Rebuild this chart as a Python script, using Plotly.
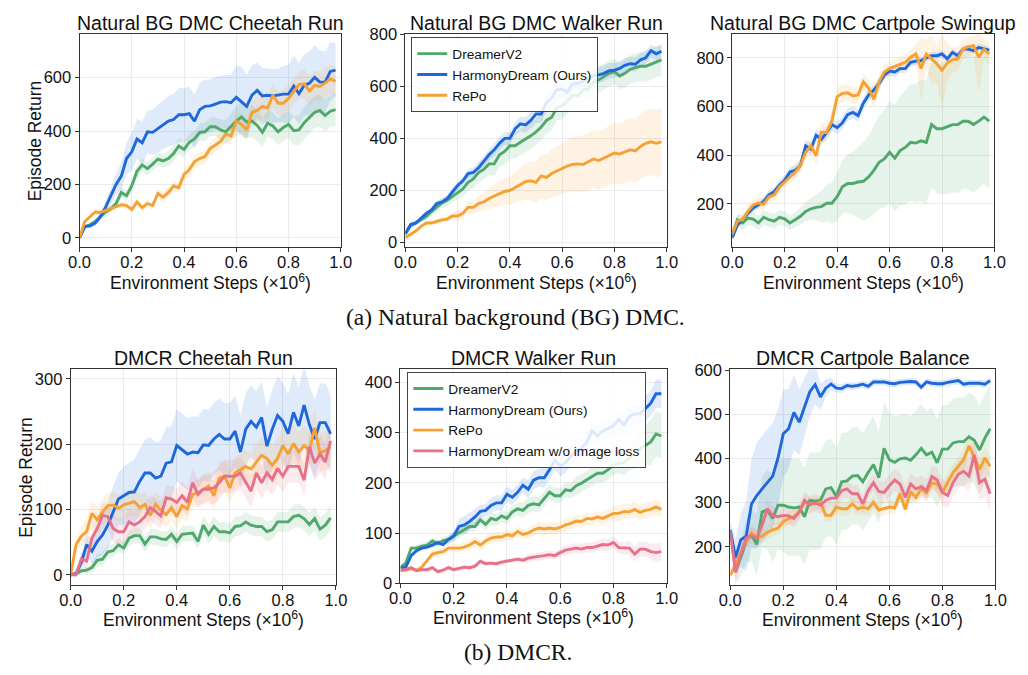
import numpy as np
import plotly.graph_objects as go

W, H = 1028, 675
STEPS = np.round(np.arange(50) * 0.02, 2)

NAMES = ["DreamerV2", "HarmonyDream (Ours)", "RePo", "HarmonyDream w/o image loss"]
COLORS = ["#4fa86c", "#1f68dc", "#f5a133", "#e8718a"]

# ---------------- Natural BG DMC Cheetah Run ----------------
nc_green = [0,42,49,61,79,97,109,128,170,158,194,249,273,259,276,295,288,297,316,344,331,358,370,395,397,416,416,404,397,419,437,453,434,437,421,395,429,419,397,413,425,401,404,431,449,470,477,458,474,480]
nc_blue = [0,42,45,55,79,115,158,200,231,297,322,370,356,397,395,409,423,437,443,461,461,465,437,480,492,494,501,508,510,506,526,510,492,534,552,531,534,531,534,538,538,568,540,571,579,601,583,583,623,628]
nc_orange = [0,61,79,97,95,103,109,119,124,121,106,134,113,128,121,166,152,170,194,188,237,255,285,297,304,334,349,361,389,382,437,425,404,470,477,492,486,534,504,504,522,546,574,577,550,571,567,579,595,586]
nc_green_sd = [0,5,8,10,12,15,15,18,20,20,22,25,25,25,25,25,25,28,30,30,30,30,30,32,35,35,35,40,45,50,55,60,60,60,60,55,50,50,50,50,50,55,55,60,60,60,60,60,60,60]
nc_blue_sd = [0,5,8,10,15,20,30,40,50,60,70,75,80,80,85,90,90,95,95,100,100,100,100,100,100,100,100,100,100,105,120,130,120,110,105,105,100,100,100,105,110,115,115,115,120,120,120,115,110,100]
nc_orange_sd = [0,8,10,10,10,10,10,10,10,12,12,15,15,15,15,18,20,20,20,20,22,25,25,25,25,25,28,30,30,30,35,40,40,40,45,45,45,45,45,50,50,50,50,55,55,55,55,55,55,55]

# ---------------- Natural BG DMC Walker Run ----------------
nw_green = [34,65,75,87,100,119,137,152,162,177,194,206,231,244,269,281,302,302,337,350,372,372,385,397,410,425,444,469,481,519,525,544,565,565,587,590,615,625,637,650,656,640,650,665,672,677,677,685,694,702]
nw_blue = [34,69,75,94,112,125,150,156,169,194,219,237,265,269,287,312,337,356,381,400,400,437,456,452,469,494,494,537,556,587,590,577,610,612,619,631,640,644,650,660,662,669,681,687,685,702,710,737,725,735]
nw_orange = [19,31,44,62,75,75,81,87,90,102,102,112,135,135,150,156,169,177,187,196,200,212,225,234,237,231,256,250,265,275,284,294,300,302,300,312,321,315,325,335,344,340,347,356,352,369,381,387,381,387]
nw_green_sd = [10,10,10,10,12,15,18,20,22,25,28,30,32,35,38,40,42,45,45,50,50,50,50,50,50,50,50,50,50,50,50,50,50,50,50,50,50,50,50,50,50,50,55,55,55,55,60,60,60,60]
nw_blue_sd = [10,10,10,10,10,10,12,12,12,15,15,15,18,18,20,20,22,25,25,25,25,25,28,30,30,35,35,35,35,35,30,30,28,28,28,30,30,30,30,30,28,28,28,28,28,25,25,25,25,25]
nw_orange_sd = [5,5,5,5,8,8,10,10,12,12,20,22,24,26,30,35,40,44,48,52,55,60,65,70,75,80,84,88,92,96,100,102,104,106,108,110,111,112,113,114,115,117,119,121,123,125,126,128,130,130]

# ---------------- Natural BG DMC Cartpole Swingup ----------------
ns_green = [75,135,122,142,138,122,145,135,129,145,139,122,135,149,169,180,186,189,203,203,230,270,284,284,290,293,311,338,371,385,412,388,419,432,453,450,459,453,526,509,509,517,526,526,540,540,526,540,557,540]
ns_blue = [61,115,135,162,183,196,210,237,250,277,297,331,338,358,439,425,482,466,493,526,513,533,567,576,563,614,648,668,695,729,746,742,756,756,782,787,789,800,809,809,816,796,823,809,836,836,830,843,836,832]
ns_orange = [75,129,135,169,196,203,199,230,237,270,290,311,331,358,412,439,398,495,493,540,641,654,657,644,648,702,675,630,702,742,756,765,773,782,803,816,756,816,796,776,749,779,792,796,836,846,850,803,836,816]
ns_green_sd = [20,25,30,30,30,30,30,30,30,30,30,30,30,35,40,45,55,65,75,85,100,110,120,130,145,160,170,180,190,200,210,218,226,234,240,245,250,255,260,265,270,275,280,280,280,280,280,275,275,280]
ns_blue_sd = [15,15,15,15,15,15,18,18,18,20,20,20,22,22,25,25,25,25,25,25,25,25,25,25,25,25,25,22,22,20,20,20,18,18,18,18,15,15,15,15,15,15,15,15,15,15,15,15,15,15]
ns_orange_sd = [20,25,25,25,25,25,25,25,25,25,28,28,30,30,35,35,40,40,40,40,35,35,35,35,35,35,35,35,35,30,30,30,30,30,30,40,130,60,100,80,150,80,50,50,40,40,40,150,40,50]

# ---------------- DMCR Cheetah Run ----------------
dc_green = [0,1.5,6,7,11,22,24,35,37,46,41,56,60,60,47,58,58,55,54,62,51,62,63,64,51,76,62,74,66,66,64,74,75,81,76,74,74,66,69,81,81,81,89,91,86,77,86,70,76,87]
dc_blue = [0,1.5,19,46,36,51,61,76,96,116,121,126,127,143,156,156,148,151,171,173,198,192,185,188,187,199,198,208,215,208,208,220,188,223,235,226,241,197,223,244,235,216,249,228,260,230,208,233,233,216]
dc_orange = [0,46,59,66,94,84,96,106,107,102,107,109,112,103,108,91,108,99,92,103,89,106,101,123,126,131,136,121,148,151,133,156,161,166,162,173,183,178,168,178,198,185,201,188,198,190,225,187,190,196]
dc_pink = [0,0,24,21,56,71,91,89,71,66,66,81,76,81,89,103,97,90,118,116,111,121,111,141,123,131,131,133,141,151,151,151,156,143,128,156,141,156,146,163,151,166,166,166,145,196,171,185,173,205]
dc_green_sd = [0,3,5,5,8,10,10,10,10,10,10,12,12,12,12,12,12,12,12,12,12,12,12,12,12,15,15,15,15,15,15,15,15,15,15,15,15,15,15,15,15,15,18,18,18,18,18,18,18,20]
dc_blue_sd = [0,5,10,15,20,25,30,35,40,40,45,45,50,50,50,55,55,55,55,55,55,55,55,55,55,55,55,55,55,55,55,55,55,55,55,55,55,60,60,60,60,60,60,60,60,60,60,60,60,60]
dc_orange_sd = [0,10,15,20,20,20,20,20,20,20,20,20,20,20,20,20,20,20,20,20,20,20,20,20,20,22,22,22,25,25,25,25,25,25,25,28,28,28,30,30,30,30,30,30,30,30,30,30,30,30]
dc_pink_sd = [0,5,10,12,15,18,20,20,20,20,20,20,20,20,20,20,20,20,20,20,22,22,22,22,22,22,22,25,25,25,25,25,25,25,25,25,25,25,25,25,25,25,25,25,25,25,28,28,28,28]

# ---------------- DMCR Walker Run ----------------
dw_green = [32,40,70,70,74,76,84,79,85,87,94,100,106,113,113,126,117,129,126,134,129,142,148,145,155,158,156,168,181,174,174,186,184,194,199,206,212,219,219,226,235,239,240,250,259,268,274,281,297,293]
dw_blue = [30,32,55,65,70,72,76,81,77,87,94,113,116,123,132,143,145,155,160,160,177,171,181,195,187,205,210,210,226,245,233,240,252,264,268,281,303,293,303,308,313,326,315,332,337,337,348,358,377,377]
dw_orange = [26,26,29,26,32,45,58,61,63,70,70,70,72,76,83,76,84,90,92,92,97,94,103,97,100,106,110,108,110,108,111,116,119,124,123,129,128,132,129,134,139,139,143,142,147,141,145,147,152,147]
dw_pink = [26,27,31,25,27,27,31,23,26,31,27,29,32,31,34,44,39,40,39,42,44,46,48,46,50,52,53,55,57,55,61,66,68,70,68,71,71,74,77,76,81,71,70,70,58,68,68,63,61,63]
dw_green_sd = [3,5,5,5,5,8,8,8,8,8,10,10,10,10,10,10,12,12,12,12,12,12,12,15,15,15,15,15,15,15,15,15,15,18,18,18,18,18,18,20,20,20,25,25,30,35,40,45,45,45]
dw_blue_sd = [3,3,5,5,5,5,5,5,5,8,10,15,18,18,15,12,12,15,15,15,15,15,15,15,18,18,18,20,20,20,20,20,20,20,20,20,20,20,20,20,20,20,20,22,22,22,25,25,28,28]
dw_orange_sd = [3,3,3,3,5,5,8,8,8,8,8,8,8,10,10,10,10,10,10,10,10,10,10,10,10,12,12,12,12,12,12,12,12,12,12,12,12,12,12,12,15,15,15,15,15,15,15,15,15,15]
dw_pink_sd = [3,3,3,3,3,5,5,5,5,5,5,5,5,5,5,5,5,5,5,5,5,5,5,5,8,8,8,8,8,8,8,10,10,10,10,10,10,10,12,12,12,12,12,15,15,15,15,15,18,18]

# ---------------- DMCR Cartpole Balance ----------------
db_green = [235,146,176,213,227,205,279,283,264,294,294,290,288,290,268,305,303,305,331,334,314,347,349,360,361,347,368,386,356,423,397,391,399,401,396,408,423,408,414,390,421,421,435,438,438,449,441,419,446,467]
db_blue = [238,176,216,224,297,316,331,345,360,401,456,467,504,482,515,551,567,539,559,568,559,558,565,563,565,568,563,573,573,573,570,569,572,573,574,573,561,573,570,569,569,572,574,576,568,570,570,570,568,576]
db_orange = [135,161,190,213,231,220,224,233,238,242,257,264,268,279,301,297,297,301,271,271,290,286,286,297,286,290,286,301,283,286,290,288,320,285,325,312,331,322,344,342,323,346,368,382,397,428,404,375,401,382]
db_pink = [236,142,183,220,226,220,249,286,271,268,271,270,264,279,305,295,300,294,305,310,310,327,331,320,320,297,327,345,325,323,338,351,342,312,342,331,336,327,359,351,323,316,345,364,371,360,408,345,353,320]
db_green_sd = [20,30,40,50,60,70,80,90,100,100,105,110,110,110,110,110,110,110,110,110,110,110,110,110,110,110,110,110,105,105,105,105,100,100,100,100,100,100,100,100,100,100,100,100,100,100,100,100,100,100]
db_blue_sd = [20,40,60,80,100,120,120,120,120,110,100,90,85,75,65,55,45,30,20,15,10,10,8,8,8,8,8,8,8,8,8,8,8,8,8,8,8,8,8,8,8,8,8,8,8,8,8,8,8,8]
db_orange_sd = [10,15,15,15,15,15,15,15,15,15,15,15,15,15,15,15,15,15,15,15,15,15,15,15,15,15,15,15,15,15,15,15,15,15,15,15,15,15,15,20,20,20,20,20,25,25,25,25,25,25]
db_pink_sd = [15,20,20,20,20,20,20,20,20,20,20,20,20,20,20,20,20,20,20,20,20,20,20,20,20,20,20,20,25,25,25,25,25,25,25,25,25,25,25,30,30,30,30,30,35,35,40,40,40,40]

TITLES = ["Natural BG DMC Cheetah Run", "Natural BG DMC Walker Run", "Natural BG DMC Cartpole Swingup",
          "DMCR Cheetah Run", "DMCR Walker Run", "DMCR Cartpole Balance"]
YTICKS = [[0, 200, 400, 600], [0, 200, 400, 600, 800], [200, 400, 600, 800],
          [0, 100, 200, 300], [0, 100, 200, 300, 400], [200, 300, 400, 500, 600]]
YRANGES = [[-36, 762], [-19, 800], [21, 897], [-16, 315], [0, 426], [113, 602]]
XTICKS = [0, 0.2, 0.4, 0.6, 0.8, 1.0]

PANELS = [
    [(nc_green, nc_green_sd), (nc_blue, nc_blue_sd), (nc_orange, nc_orange_sd)],
    [(nw_green, nw_green_sd), (nw_blue, nw_blue_sd), (nw_orange, nw_orange_sd)],
    [(ns_green, ns_green_sd), (ns_blue, ns_blue_sd), (ns_orange, ns_orange_sd)],
    [(dc_green, dc_green_sd), (dc_blue, dc_blue_sd), (dc_orange, dc_orange_sd), (dc_pink, dc_pink_sd)],
    [(dw_green, dw_green_sd), (dw_blue, dw_blue_sd), (dw_orange, dw_orange_sd), (dw_pink, dw_pink_sd)],
    [(db_green, db_green_sd), (db_blue, db_blue_sd), (db_orange, db_orange_sd), (db_pink, db_pink_sd)],
]

# plot-area boxes in pixels: (left, right, top, bottom)
BOXES = [(70, 337, 26, 245), (403, 670, 26, 245), (737, 1005, 26, 245),
         (61, 332, 370, 592), (398, 670, 370, 590), (735, 1006, 370, 592)]


def rgba(hex_color, a):
    h = hex_color.lstrip("#")
    r, g, b = int(h[0:2], 16), int(h[2:4], 16), int(h[4:6], 16)
    return f"rgba({r},{g},{b},{a})"


FONT = "Liberation Sans, Arial, sans-serif"
fig = go.Figure()
annotations = []
layout = {}

for i, (series, box) in enumerate(zip(PANELS, BOXES)):
    k = i + 1
    xa = "x" if k == 1 else f"x{k}"
    ya = "y" if k == 1 else f"y{k}"
    legend_name = "legend" if i == 1 else ("legend2" if i == 4 else None)
    x = list(STEPS)
    for j, (mean, sd) in enumerate(series):
        m = np.array(mean, dtype=float)
        s = np.array(sd, dtype=float)
        up = m + s
        lo = m - s
        fig.add_trace(go.Scatter(
            x=x + x[::-1], y=list(up) + list(lo[::-1]), fill="toself",
            fillcolor=rgba(COLORS[j], 0.14), line=dict(width=0), mode="lines",
            hoverinfo="skip", showlegend=False, xaxis=xa, yaxis=ya))
    for j, (mean, sd) in enumerate(series):
        tr = dict(x=x, y=mean, mode="lines", name=NAMES[j],
                  line=dict(color=COLORS[j], width=2.9),
                  xaxis=xa, yaxis=ya, showlegend=legend_name is not None)
        if legend_name:
            tr["legend"] = legend_name
        fig.add_trace(go.Scatter(**tr))

    l, r, t, b = box
    axis_common = dict(showline=True, linecolor="#333333", linewidth=1, mirror=True,
                       ticks="outside", ticklen=4, tickcolor="#333333",
                       showgrid=True, gridcolor="#ebebeb", gridwidth=1, zeroline=False,
                       tickfont=dict(family=FONT, size=16.5, color="#111111"))
    layout["xaxis" if k == 1 else f"xaxis{k}"] = dict(
        domain=[l / W, r / W], range=[0, 1], tickvals=XTICKS, tickformat=".1f",
        anchor=ya, ticklabelstandoff=-4, **axis_common)
    layout["yaxis" if k == 1 else f"yaxis{k}"] = dict(
        domain=[1 - b / H, 1 - t / H], range=YRANGES[i], tickvals=YTICKS[i],
        anchor=xa, **axis_common)

    cx = (l + r) / 2
    annotations.append(dict(text=TITLES[i], x=cx / W, y=1 - (t - 11.5) / H, xref="paper", yref="paper",
                            xanchor="center", yanchor="middle", showarrow=False,
                            font=dict(family=FONT, size=19.5, color="#111111")))
    annotations.append(dict(text="Environment Steps (\u00d710<sup>6</sup>)", x=cx / W,
                            y=1 - (b + 35) / H, xref="paper", yref="paper",
                            xanchor="center", yanchor="middle", showarrow=False,
                            font=dict(family=FONT, size=17.5, color="#111111")))
    if i % 3 == 0:
        annotations.append(dict(text="Episode Return", x=(l - 46) / W, y=1 - ((t + b) / 2) / H,
                                xref="paper", yref="paper", textangle=-90,
                                xanchor="center", yanchor="middle", showarrow=False,
                                font=dict(family=FONT, size=17.5, color="#111111")))

SERIF = "Liberation Serif, Times New Roman, serif"
annotations.append(dict(text="(a) Natural background (BG) DMC.", x=516 / W, y=1 - 316 / H,
                        xref="paper", yref="paper", xanchor="center", yanchor="middle",
                        showarrow=False, font=dict(family=SERIF, size=23.5, color="#111111")))
annotations.append(dict(text="(b) DMCR.", x=518 / W, y=1 - 661 / H,
                        xref="paper", yref="paper", xanchor="center", yanchor="middle",
                        showarrow=False, font=dict(family=SERIF, size=23.5, color="#111111")))

legend_common = dict(xanchor="left", yanchor="top", bgcolor="rgba(255,255,255,0.85)",
                     bordercolor="#444444", borderwidth=1,
                     font=dict(family=FONT, size=13.7, color="#111111"),
                     tracegroupgap=0, itemwidth=30)
fig.update_layout(
    width=W, height=H, autosize=False,
    margin=dict(l=0, r=0, t=0, b=0),
    paper_bgcolor="white", plot_bgcolor="white",
    annotations=annotations,
    legend=dict(x=409 / W, y=1 - 29 / H, **legend_common),
    legend2=dict(x=405 / W, y=1 - 373 / H, **legend_common),
    **layout,
)

fig.write_html("out.html", config={"displayModeBar": False})
